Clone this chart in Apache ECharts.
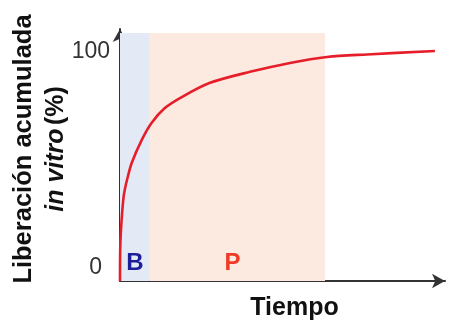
<!DOCTYPE html>
<html>
<head>
<meta charset="utf-8">
<script src="https://cdn.jsdelivr.net/npm/echarts@6/dist/echarts.min.js"></script>
<style>
  html, body { margin: 0; padding: 0; background: #fff; }
  #chart { width: 451px; height: 324px; }
</style>
</head>
<body>
<div id="chart"></div>
<script>
// Cumulative in-vitro release profile: burst phase (B) then prolonged phase (P)
const time = [0, 0.06, 0.3, 1.0, 1.5, 2.4, 3.6, 6.7, 9.7, 13.8, 19.0, 27.7, 40.0, 52.3, 63.7, 76.0, 96.9];
const release = [0, 13.5, 22.3, 35.4, 40.0, 45.5, 51.5, 61.6, 69.0, 75.5, 80.3, 86.5, 91.3, 95.2, 97.8, 98.9, 100.4];

// Phase bands along the time axis
const phaseNames = ['B', 'P'];
const phaseStart = [0, 9.2];
const phaseEnd = [9.2, 63.1];
const phaseTop = 108.3;

const yTicks = [0, 100];

const FONT = 'Liberation Sans, Arial, Helvetica, sans-serif';
const phaseStyles = [
  { fill: '#e4e9f6', text: '#1c1f99', offset: [0, 0] },
  { fill: '#fce9df', text: '#f03a26', offset: [-5, 0] }
];

const chart = echarts.init(document.getElementById('chart'), null, { renderer: 'canvas' });

chart.setOption({
  animation: false,
  backgroundColor: '#ffffff',
  grid: { left: 120, right: 6, top: 29, bottom: 43, containLabel: false, outerBoundsMode: 'none' },
  xAxis: {
    type: 'value',
    min: 0,
    max: 100,
    name: 'Tiempo',
    nameLocation: 'middle',
    nameGap: 15,
    nameMoveOverlap: false,
    nameTextStyle: {
      fontFamily: FONT, fontWeight: 'bold', fontSize: 25, color: '#111',
      padding: [0, 0, 0, 24]
    },
    axisLine: {
      show: true, onZero: false,
      symbol: ['none', 'arrow'], symbolSize: [11, 13],
      lineStyle: { color: '#333', width: 2 }
    },
    axisTick: { show: false },
    axisLabel: { show: false },
    splitLine: { show: false }
  },
  yAxis: {
    type: 'value',
    min: 0,
    max: 110,
    interval: 100,
    name: '{a|Liberación acumulada}\n{b|in vitro} {c|(%)}',
    nameLocation: 'middle',
    nameRotate: 90,
    nameGap: 47,
    nameMoveOverlap: false,
    nameTextStyle: {
      fontFamily: FONT,
      padding: [0, 0, 0, 12],
      rich: {
        a: { fontFamily: FONT, fontWeight: 'bold', fontSize: 25.5, color: '#111', lineHeight: 33 },
        b: { fontFamily: FONT, fontWeight: 'bold', fontStyle: 'italic', fontSize: 25, color: '#111', lineHeight: 33 },
        c: { fontFamily: FONT, fontWeight: 'bold', fontSize: 25, color: '#111', lineHeight: 33 }
      }
    },
    axisLine: {
      show: true, onZero: false,
      symbol: ['none', 'arrow'], symbolSize: [11, 13],
      lineStyle: { color: '#333', width: 2 }
    },
    axisTick: { show: false },
    splitLine: { show: false },
    axisLabel: {
      margin: 10,
      formatter: function (v) {
        if (v === yTicks[0]) return '{z|' + v + '}';
        if (v === yTicks[1]) return '{h|' + v + '}';
        return '';
      },
      rich: {
        z: { fontFamily: FONT, fontSize: 23, color: '#333', padding: [0, 8, 26, 0] },
        h: { fontFamily: FONT, fontSize: 23, color: '#333' }
      }
    }
  },
  series: [{
    type: 'line',
    data: time.map((t, i) => [t, release[i]]),
    smooth: 0.3,
    showSymbol: false,
    lineStyle: { color: '#e61e2a', width: 2.6 },
    z: 5,
    markArea: {
      silent: true,
      data: phaseNames.map((n, i) => [
        {
          name: n,
          xAxis: phaseStart[i], yAxis: 0,
          itemStyle: { color: phaseStyles[i].fill },
          label: {
            show: true, position: 'insideBottom', distance: 6,
            offset: phaseStyles[i].offset,
            fontFamily: FONT, fontWeight: 'bold', fontSize: 24,
            color: phaseStyles[i].text
          }
        },
        { xAxis: phaseEnd[i], yAxis: phaseTop }
      ])
    }
  }]
});
</script>
</body>
</html>
